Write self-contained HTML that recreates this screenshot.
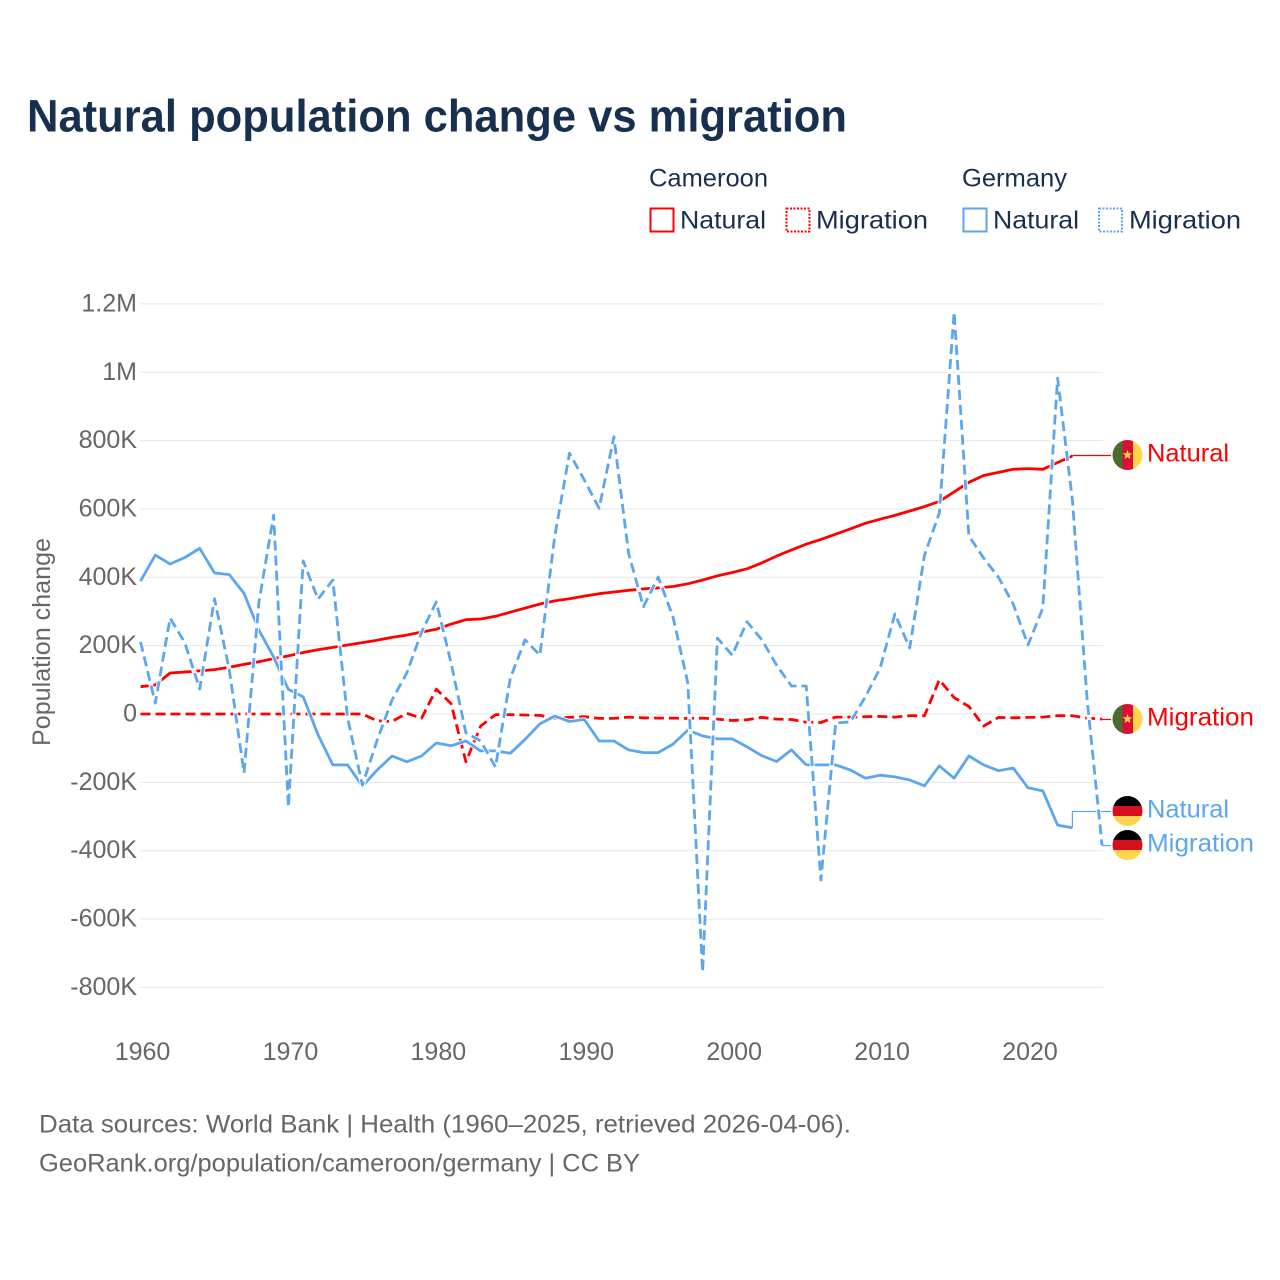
<!DOCTYPE html>
<html lang="en">
<head>
<meta charset="utf-8">
<title>Natural population change vs migration</title>
<style>
  html, body { margin: 0; padding: 0; background: #fff; }
  svg { display: block; font-family: "Liberation Sans", sans-serif; }
</style>
</head>
<body>
<svg id="chart" xmlns="http://www.w3.org/2000/svg" width="1280" height="1280" viewBox="0 0 1280 1280">
  <rect x="0" y="0" width="1280" height="1280" fill="#fff"/>
  <text x="27" y="131.5" font-size="45" font-weight="700" fill="#18304f" textLength="820" lengthAdjust="spacingAndGlyphs">Natural population change vs migration</text>

  <g font-size="25" fill="#18304f">
    <text x="649" y="186.5" textLength="119" lengthAdjust="spacingAndGlyphs">Cameroon</text>
    <text x="962" y="186.5" textLength="105" lengthAdjust="spacingAndGlyphs">Germany</text>
    <g>
      <rect x="650.5" y="208.5" width="23" height="23" fill="none" stroke="#ff0000" stroke-width="2"/>
      <text x="680" y="228.5" textLength="86" lengthAdjust="spacingAndGlyphs">Natural</text>
    </g>
    <g>
      <rect x="786.5" y="208.5" width="23" height="23" fill="none" stroke="#ff0000" stroke-width="2" stroke-dasharray="2 1.5"/>
      <text x="816" y="228.5" textLength="112" lengthAdjust="spacingAndGlyphs">Migration</text>
    </g>
    <g>
      <rect x="963.5" y="208.5" width="23" height="23" fill="none" stroke="#5ca6ef" stroke-width="2"/>
      <text x="993" y="228.5" textLength="86" lengthAdjust="spacingAndGlyphs">Natural</text>
    </g>
    <g>
      <rect x="1099" y="208.5" width="23" height="23" fill="none" stroke="#5ca6ef" stroke-width="2" stroke-dasharray="2 1.5"/>
      <text x="1129" y="228.5" textLength="112" lengthAdjust="spacingAndGlyphs">Migration</text>
    </g>
  </g>

  <g id="grid"></g>
  <g id="yticks"></g>
  <g id="xticks"></g>
  <text transform="translate(50,642) rotate(-90)" text-anchor="middle" font-size="25" fill="#666" textLength="208" lengthAdjust="spacingAndGlyphs">Population change</text>
  <g id="series"></g>

  <g transform="translate(1127.5,455)">
    <circle r="16" fill="#fff"/>
    <clipPath id="clip-flag"><circle r="15"/></clipPath>
    <g clip-path="url(#clip-flag)">
      <rect x="-15" y="-15" width="10" height="30" fill="#4c6b2c"/>
      <rect x="-5" y="-15" width="10.5" height="30" fill="#d80f36"/>
      <rect x="5.5" y="-15" width="10" height="30" fill="#ffd44a"/>
      <polygon points="0,-5 1.3,-1.6 4.8,-1.6 2,0.6 3,4 0,2 -3,4 -2,0.6 -4.8,-1.6 -1.3,-1.6" fill="#ffd44a"/>
    </g>
  </g>
  <g transform="translate(1127.5,719)">
    <circle r="16" fill="#fff"/>
    <g clip-path="url(#clip-flag)">
      <rect x="-15" y="-15" width="10" height="30" fill="#4c6b2c"/>
      <rect x="-5" y="-15" width="10.5" height="30" fill="#d80f36"/>
      <rect x="5.5" y="-15" width="10" height="30" fill="#ffd44a"/>
      <polygon points="0,-5 1.3,-1.6 4.8,-1.6 2,0.6 3,4 0,2 -3,4 -2,0.6 -4.8,-1.6 -1.3,-1.6" fill="#ffd44a"/>
    </g>
  </g>
  <g transform="translate(1127.5,811)">
    <circle r="16" fill="#fff"/>
    <g clip-path="url(#clip-flag)">
      <rect x="-15" y="-15" width="30" height="10" fill="#000"/>
      <rect x="-15" y="-5" width="30" height="10" fill="#d80f20"/>
      <rect x="-15" y="5" width="30" height="10" fill="#ffd44a"/>
    </g>
  </g>
  <g transform="translate(1127.5,845)">
    <circle r="16" fill="#fff"/>
    <g clip-path="url(#clip-flag)">
      <rect x="-15" y="-15" width="30" height="10" fill="#000"/>
      <rect x="-15" y="-5" width="30" height="10" fill="#d80f20"/>
      <rect x="-15" y="5" width="30" height="10" fill="#ffd44a"/>
    </g>
  </g>

  <g font-size="25">
    <text x="1147" y="461.5" fill="#ff0000" textLength="82" lengthAdjust="spacingAndGlyphs">Natural</text>
    <text x="1147" y="725.5" fill="#ff0000" textLength="107" lengthAdjust="spacingAndGlyphs">Migration</text>
    <text x="1147" y="817.5" fill="#5ca6ef" textLength="82" lengthAdjust="spacingAndGlyphs">Natural</text>
    <text x="1147" y="851.5" fill="#5ca6ef" textLength="107" lengthAdjust="spacingAndGlyphs">Migration</text>
  </g>

  <g font-size="25" fill="#666">
    <text x="39" y="1132.5" textLength="812" lengthAdjust="spacingAndGlyphs">Data sources: World Bank | Health (1960–2025, retrieved 2026-04-06).</text>
    <a><text x="39" y="1171.5" textLength="601" lengthAdjust="spacingAndGlyphs">GeoRank.org/population/cameroon/germany | CC BY</text></a>
  </g>
</svg>

<script>
// Chart data (values in thousands of people)
const startYear = 1960;
const endYear = 2025;
const xTickYears = [1960, 1970, 1980, 1990, 2000, 2010, 2020];
const yTickValues = [1200, 1000, 800, 600, 400, 200, 0, -200, -400, -600, -800];
const yTickLabels = ["1.2M", "1M", "800K", "600K", "400K", "200K", "0", "-200K", "-400K", "-600K", "-800K"];

const cameroonNatural = [80,85,120,123,126,130,137,145,153,162,170,180,188,195,202,209,216,224,231,240,248,263,276,278,286,298,310,322,331,337,345,352,357,362,366,369,373,381,392,404,414,425,442,462,480,497,511,526,542,558,570,581,594,607,622,650,678,698,707,716,718,716,736,755];
const cameroonMigration = [0,0,0,0,0,0,0,0,0,0,0,0,0,0,0,0,-20,-22,2,-12,73,30,-140,-35,-2,-2,-3,-4,-12,-10,-8,-13,-13,-9,-11,-12,-12,-13,-12,-15,-19,-17,-10,-15,-16,-24,-25,-9,-9,-8,-7,-9,-5,-5,100,48,22,-35,-10,-11,-10,-9,-5,-5,-12,-15];
const germanyNatural = [389,465,439,458,485,413,408,353,246,167,72,50,-61,-149,-149,-211,-164,-123,-140,-123,-85,-93,-79,-108,-108,-115,-74,-29,-6,-22,-16,-79,-79,-105,-113,-113,-88,-47,-64,-73,-73,-96,-122,-139,-105,-149,-149,-149,-164,-188,-179,-184,-193,-210,-152,-188,-123,-149,-166,-158,-216,-225,-325,-333];
const germanyMigration = [211,32,281,208,73,337,129,-172,324,582,-272,448,336,392,-12,-208,-76,41,120,240,328,149,-55,-79,-155,105,217,172,519,763,685,602,811,470,314,401,284,91,-755,222,172,270,217,143,82,82,-486,-26,-23,50,134,293,193,465,588,1176,521,456,400,322,202,310,983,626,40,-383];

const NS = "http://www.w3.org/2000/svg";
const gridLeft = 140, gridRight = 1103;
const xLeft = 140.5, xRight = 1102, y0 = 714, pxPerK = 68.35 / 200;
function xScale(year) { return xLeft + (year - startYear) * (xRight - xLeft) / (endYear - startYear); }
function yScale(v) { return y0 - v * pxPerK; }

const gridG = document.getElementById("grid");
const yTicksG = document.getElementById("yticks");
const xTicksG = document.getElementById("xticks");
const seriesG = document.getElementById("series");

function make(tag, parent, attrs) {
  const el = document.createElementNS(NS, tag);
  for (const k in attrs) el.setAttribute(k, attrs[k]);
  parent.appendChild(el);
  return el;
}

yTickValues.forEach(function (v, i) {
  const line = make("line", gridG, { x1: gridLeft, x2: gridRight, y1: yScale(v), y2: yScale(v), stroke: "#e6e6e6", "stroke-width": 1 });
  
  
  const t = make("text", yTicksG, { x: 137, y: yScale(v) + 7.5, "text-anchor": "end", "font-size": 25, fill: "#666" });
  
  
  t.textContent = yTickLabels[i];
});

xTickYears.forEach(function (year) {
  const t = make("text", xTicksG, { x: xScale(year) + 2, y: 1060, "text-anchor": "middle", "font-size": 25, fill: "#666" });
  
  
  t.textContent = String(year);
});

function drawSeries(values, color, dashed, name, labelY, elbow) {
  const pts = values.map(function (v, i) { return [xScale(startYear + i), yScale(v)]; });
  const d = pts.map(function (p, i) { return (i ? "L" : "M") + p[0].toFixed(1) + " " + p[1].toFixed(1); }).join("");
  const last = pts[pts.length - 1];

  const halo = make("path", seriesG, { d: d, fill: "none", stroke: "#fff", "stroke-width": 4.8, "stroke-linejoin": "round", opacity: 0.9 });
  
  

  const leaderPath = elbow
    ? "M" + last[0] + " " + last[1] + "L" + last[0] + " " + (labelY + 0.5) + "L1111 " + (labelY + 0.5)
    : "M" + last[0] + " " + (labelY + 0.5) + "L1111 " + (labelY + 0.5);
  const leader = make("path", seriesG, { d: leaderPath, fill: "none", stroke: color, "stroke-width": 1.2 });
  
  

  const line = make("path", seriesG, { d: d, fill: "none", stroke: color, "stroke-width": 2.8, "stroke-linejoin": "round" });
  if (dashed) line.setAttribute("stroke-dasharray", "10 5");
  
  
}

drawSeries(cameroonNatural, "#ff0000", false, "cameroon-natural", 455, false);
drawSeries(cameroonMigration, "#ff0000", true, "cameroon-migration", 719, false);
drawSeries(germanyNatural, "#5ca6ef", false, "germany-natural", 811, true);
drawSeries(germanyMigration, "#5ca6ef", true, "germany-migration", 845, true);
</script>
</body>
</html>
